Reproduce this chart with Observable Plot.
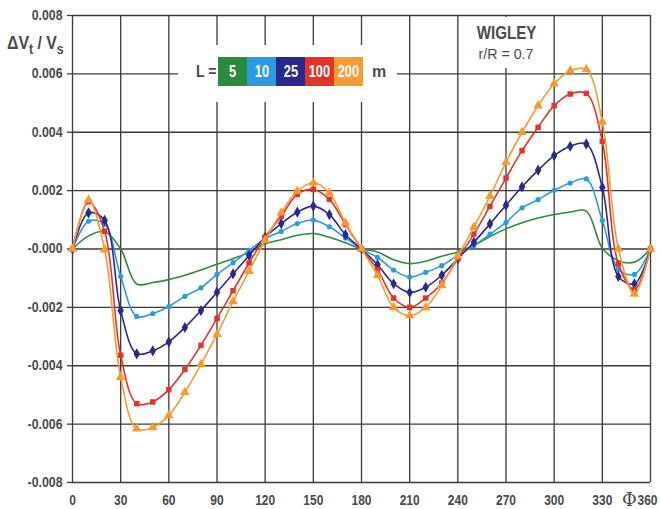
<!DOCTYPE html>
<html>
<head>
<meta charset="utf-8">
<script src="https://cdn.jsdelivr.net/npm/d3@7"></script>
<script src="https://cdn.jsdelivr.net/npm/@observablehq/plot@0.6"></script>
<style>
  body { margin: 0; background: #fff; }
  #wrap { position: relative; width: 661px; height: 509px; font-family: "Liberation Sans", Arial, sans-serif; color: #4a4a4a; }
  .ov { position: absolute; }
  .sq { display: inline-block; transform-origin: center; }
</style>
</head>
<body>
<div id="wrap">
  <div id="chart"></div>
  <div class="ov" style="left:7px; top:33px; font-size:18px; font-weight:bold; white-space:nowrap; transform:scaleX(0.88); transform-origin:left center;">ΔV<sub style="font-size:14px; vertical-align:-5px;">t</sub> / V<sub style="font-size:14px; vertical-align:-5px;">s</sub></div>
  <div class="ov" style="left:178px; top:45px; width:219px; height:57px; background:#fff;"></div>
  <div class="ov" style="left:196px; top:63px; font-size:16px; font-weight:bold; transform:scaleX(0.88); transform-origin:left center;">L =</div>
  <div id="legend" class="ov" style="left:218px; top:57px; height:29px; display:flex;"></div>
  <div class="ov" style="left:372px; top:63px; font-size:16px; font-weight:bold;">m</div>
  <div class="ov" style="left:460px; top:17px; width:92px; height:51px; background:#fff; text-align:center;">
    <div style="font-size:18px; font-weight:bold; margin-top:6px;"><span class="sq" style="transform:scaleX(0.84);">WIGLEY</span></div>
    <div style="font-size:15px; margin-top:1px;"><span class="sq" style="transform:scaleX(0.95);">r/R = 0.7</span></div>
  </div>
  <div class="ov" style="left:622px; top:489px; font-size:18px; font-family:'DejaVu Serif','Liberation Serif',serif;">Φ</div>
</div>
<script>
// Angle Φ (degrees), sampled every 10°
const phi = [0,10,20,30,40,50,60,70,80,90,100,110,120,130,140,150,160,170,180,190,200,210,220,230,240,250,260,270,280,290,300,310,320,330,340,350,360];

// ΔVt/Vs for each L (m)
const L5 = [0,0.00045,0.0006,0.0,-0.0012,-0.00115,-0.00105,-0.0009,-0.00072,-0.00052,-0.00033,-0.00012,0.00018,0.00032,0.00047,0.00053,0.0004,0.00021,0,-0.0001,-0.00037,-0.0005,-0.00042,-0.00025,-0.0001,0.00012,0.00043,0.00069,0.0009,0.00106,0.00118,0.00127,0.0013,0.00003,-0.0004,-0.00045,0];
const L10 = [0,0.00095,0.00085,-0.00094,-0.00231,-0.00221,-0.00197,-0.00162,-0.00133,-0.00087,-0.00047,-0.00005,0.00035,0.0006,0.00087,0.00099,0.00076,0.00038,0,-0.00029,-0.00072,-0.00096,-0.0008,-0.00057,-0.00022,0.00012,0.00051,0.00091,0.00141,0.00169,0.00201,0.00226,0.0024,0.00098,-0.0007,-0.00087,0];
const L25 = [0,0.00124,0.00098,-0.00211,-0.00359,-0.00349,-0.00318,-0.00269,-0.00211,-0.00148,-0.00085,-0.00022,0.0004,0.00087,0.00126,0.00147,0.00118,0.00049,0,-0.00054,-0.00119,-0.00149,-0.00131,-0.0009,-0.00033,0.00023,0.00086,0.0015,0.00213,0.0027,0.0032,0.00352,0.0036,0.00211,-0.00094,-0.00119,0];
const L100 = [0,0.00162,0.00061,-0.00364,-0.0053,-0.00524,-0.00482,-0.00413,-0.0033,-0.00238,-0.00143,-0.00048,0.00041,0.00112,0.00187,0.00204,0.0017,0.00084,0,-0.00071,-0.00168,-0.002,-0.00168,-0.00117,-0.00033,0.00051,0.00146,0.00243,0.00337,0.00417,0.00491,0.00531,0.00533,0.00369,-0.00051,-0.00139,0];
const L200 = [0,0.00168,-0.00002,-0.00439,-0.00616,-0.00611,-0.0057,-0.00491,-0.00395,-0.00292,-0.0018,-0.00076,0.0003,0.00124,0.00198,0.00227,0.00192,0.00089,0,-0.0009,-0.002,-0.00228,-0.002,-0.00125,-0.00025,0.00075,0.00181,0.00297,0.004,0.00491,0.00566,0.00611,0.00615,0.00435,0.0,-0.00154,0];

const legendLabels = ["5","10","25","100","200"];
const colors = ["#2c8a3e","#2e9ae2","#29298c","#e2352a","#f59b35"];

const xTicks = [0,30,60,90,120,150,180,210,240,270,300,330,360];
const yTicks = [-0.008,-0.006,-0.004,-0.002,0,0.002,0.004,0.006,0.008];
const yTickLabels = ["-0.008","-0.006","-0.004","-0.002","-0.000","0.002","0.004","0.006","0.008"];

const seriesVals = [L5, L10, L25, L100, L200];
const rows = seriesVals.map(vals => phi.map((p, i) => ({phi: p, v: vals[i]})));

const symbols = [null, "circle", "diamond", "square", "triangle"];
const radii = [0, 2.6, 3.4, 3.1, 3.6];

const marks = [
  Plot.gridX(xTicks, {stroke: "#3a3a3a", strokeOpacity: 1, strokeWidth: 1.3}),
  Plot.gridY(yTicks, {stroke: "#3a3a3a", strokeOpacity: 1, strokeWidth: 1.3}),
  Plot.axisY(yTicks, {tickSize: 5, tickPadding: 5, stroke: "#3a3a3a", strokeWidth: 1.3,
    tickFormat: (d, i) => yTickLabels[i], fontSize: 14, fontWeight: "bold", fill: "#4a4a4a", label: null}),
  Plot.axisX(xTicks, {tickSize: 0, tickPadding: 12, tickFormat: d => String(d),
    fontSize: 15, fontWeight: "bold", fill: "#4a4a4a", label: null})
];
rows.forEach((data, k) => {
  marks.push(Plot.line(data, {x: "phi", y: "v", stroke: colors[k], strokeWidth: 1.6, curve: "catmull-rom"}));
  if (symbols[k]) {
    marks.push(Plot.dot(data, {x: "phi", y: "v", fill: colors[k], stroke: "none", symbol: symbols[k], r: radii[k]}));
  }
});

const chart = Plot.plot({
  width: 661, height: 509,
  marginLeft: 72, marginRight: 11, marginTop: 15, marginBottom: 27,
  x: {domain: [0, 360]},
  y: {domain: [-0.008, 0.008]},
  style: {fontFamily: '"Liberation Sans", Arial, sans-serif', background: "#fff", overflow: "visible"},
  marks
});
document.getElementById("chart").appendChild(chart);

// condense axis tick labels to match the narrow face of the original
chart.querySelectorAll('g[aria-label="y-axis tick label"] text').forEach(t => {
  t.setAttribute("textLength", (t.getComputedTextLength() * 0.88).toFixed(1));
  t.setAttribute("lengthAdjust", "spacingAndGlyphs");
});
const xt = chart.querySelectorAll('g[aria-label="x-axis tick label"] text');
xt.forEach((t, i) => {
  t.setAttribute("textLength", (t.getComputedTextLength() * 0.8).toFixed(1));
  t.setAttribute("lengthAdjust", "spacingAndGlyphs");
  if (i === xt.length - 1) t.setAttribute("dx", "-3");
});

const legend = document.getElementById("legend");
legendLabels.forEach((t, k) => {
  const b = document.createElement("div");
  b.style.cssText = `width:29px;height:29px;background:${colors[k]};color:#fff;font-weight:bold;font-size:16px;display:flex;align-items:center;justify-content:center;overflow:hidden;`;
  const s = document.createElement("span");
  s.className = "sq";
  s.textContent = t;
  s.style.transform = "scaleX(0.8)";
  b.appendChild(s);
  legend.appendChild(b);
});
</script>
</body>
</html>
